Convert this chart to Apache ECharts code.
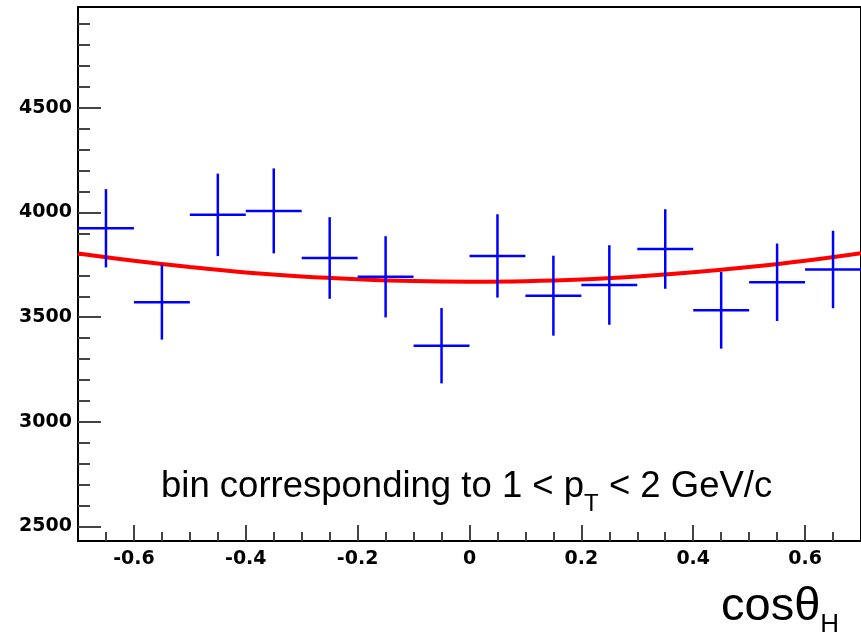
<!DOCTYPE html>
<html>
<head>
<meta charset="utf-8">
<script src="https://cdn.jsdelivr.net/npm/echarts@6/dist/echarts.min.js"></script>
<style>
html,body{margin:0;padding:0;background:#fff;}
#chart{width:861px;height:634px;}
</style>
</head>
<body>
<div id="chart"></div>
<script>
// ---- data ----
const binCenters = [-0.65,-0.55,-0.45,-0.35,-0.25,-0.15,-0.05,0.05,0.15,0.25,0.35,0.45,0.55,0.65];
const binWidth = 0.1;
const counts = [3925,3572,3989,4008,3783,3693,3364,3793,3603,3654,3826,3533,3667,3728];
const countErrors = [187,179,197,203,195,194,180,199,191,190,190,183,185,185];
const fitX = [-0.7,-0.6,-0.5,-0.4,-0.3,-0.2,-0.1,0,0.1,0.2,0.3,0.4,0.5,0.6,0.7];
const fitY = [3804,3770,3740,3714,3695,3682,3673,3670,3672,3680,3695,3715,3740,3770,3806];
const xMajorTicks = [-0.6,-0.4,-0.2,0,0.2,0.4,0.6];
const xMinorTicks = [-0.65,-0.55,-0.5,-0.45,-0.35,-0.3,-0.25,-0.15,-0.1,-0.05,0.05,0.1,0.15,0.25,0.3,0.35,0.45,0.5,0.55,0.65];
const yMajorTicks = [2500,3000,3500,4000,4500];
const yMinorTicks = [2600,2700,2800,2900,3100,3200,3300,3400,3600,3700,3800,3900,4100,4200,4300,4400,4600,4700,4800,4900];
const xRange = [-0.7, 0.7];
const yRange = [2431, 4982];

const chart = echarts.init(document.getElementById('chart'), null, {renderer:'canvas'});

const tickFont = {fontFamily:'DejaVu Sans', fontWeight:'bold', fontSize:19, color:'#000'};

function xAxisDef(ticks, len, labels){
  return {
    type:'value', min:xRange[0], max:xRange[1], position:'bottom',
    axisLine:{show:true, onZero:false, lineStyle:{color:'#000', width:2}},
    axisTick:{show:true, inside:true, length:len, customValues:ticks, lineStyle:{color:'#444', width:2}},
    axisLabel: labels ? Object.assign({show:true, margin:9, customValues:ticks,
      formatter: v => (Math.abs(v)<1e-9 ? '0' : String(Math.round(v*10)/10))}, tickFont) : {show:false},
    splitLine:{show:false}
  };
}
function yAxisDef(ticks, len, labels){
  return {
    type:'value', min:yRange[0], max:yRange[1], position:'left',
    axisLine:{show:true, onZero:false, lineStyle:{color:'#000', width:2}},
    axisTick:{show:true, inside:true, length:len, customValues:ticks, lineStyle:{color:'#444', width:2}},
    axisLabel: labels ? Object.assign({show:true, margin:6, customValues:ticks,
      formatter: v => String(Math.round(v))}, tickFont) : {show:false},
    splitLine:{show:false}
  };
}

const option = {
  animation:false,
  backgroundColor:'#fff',
  grid:{left:78, top:7, width:791, height:534, show:true, borderColor:'#000', borderWidth:2, backgroundColor:'#fff'},
  xAxis:[xAxisDef(xMajorTicks,16,true), xAxisDef(xMinorTicks,9,false)],
  yAxis:[yAxisDef(yMajorTicks,23,true), yAxisDef(yMinorTicks,12,false)],
  series:[
    {
      type:'line', xAxisIndex:0, yAxisIndex:0,
      data: fitX.map((x,i)=>[x, fitY[i]]),
      smooth:0.4, showSymbol:false,
      lineStyle:{color:'#ff0000', width:4}, z:2
    },
    {
      type:'custom', xAxisIndex:0, yAxisIndex:0, z:3,
      data: binCenters.map((x,i)=>[x, counts[i], countErrors[i]]),
      renderItem:function(params, api){
        const x = api.value(0), y = api.value(1), e = api.value(2);
        const pL = api.coord([x - binWidth/2, y]);
        const pR = api.coord([x + binWidth/2, y]);
        const pT = api.coord([x, y + e]);
        const pB = api.coord([x, y - e]);
        const st = {stroke:'#0000ff', lineWidth:2.5};
        return {type:'group', children:[
          {type:'line', shape:{x1:pL[0], y1:pL[1], x2:pR[0], y2:pR[1]}, style:st},
          {type:'line', shape:{x1:pT[0], y1:pT[1], x2:pB[0], y2:pB[1]}, style:st}
        ]};
      }
    }
  ],
  graphic:[
    {
      type:'text', left:161, top:468, z:10,
      style:{
        text:'bin corresponding to 1 < p{sub|T} < 2 GeV/c',
        fontFamily:'Liberation Sans', fontSize:36.5, fill:'#000',
        rich:{sub:{fontFamily:'Liberation Sans', fontSize:24, lineHeight:24, verticalAlign:'bottom', padding:[0,0,-11,0]}}
      }
    },
    {
      type:'text', left:721, top:584, z:10,
      style:{
        text:'cosθ{sub|H}',
        fontFamily:'Liberation Sans', fontSize:47, fill:'#000',
        rich:{sub:{fontFamily:'Liberation Sans', fontSize:26, lineHeight:26, verticalAlign:'bottom', padding:[0,0,-7,0]}}
      }
    }
  ]
};
chart.setOption(option);
</script>
</body>
</html>
